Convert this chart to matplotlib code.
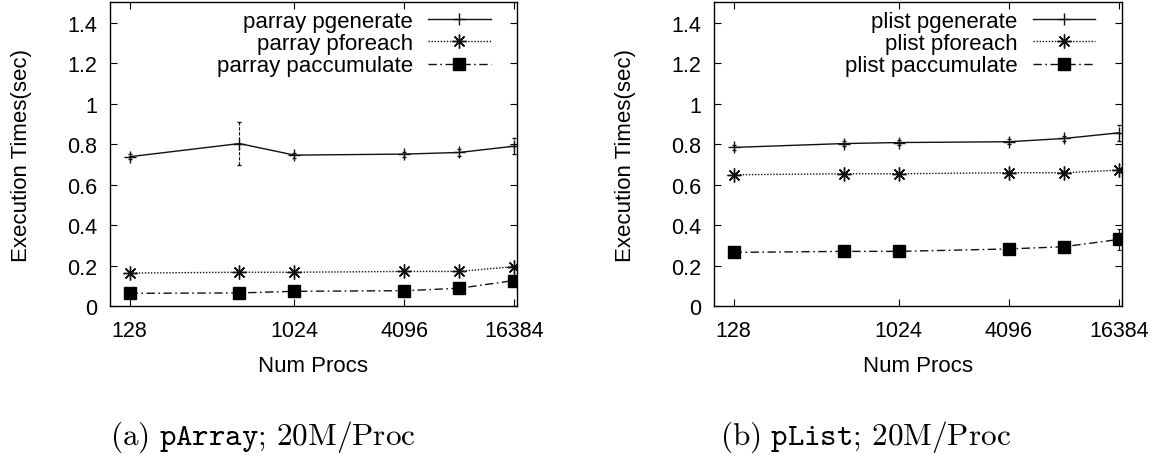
import matplotlib
matplotlib.use("Agg")
import matplotlib.pyplot as plt
from matplotlib.ticker import FixedLocator, FuncFormatter, NullLocator

plt.rcParams['font.family'] = ['Liberation Sans', 'DejaVu Sans']
plt.rcParams['mathtext.fontset'] = 'cm'

procs = [128, 512, 1024, 4096, 8192, 16384]
xtick_vals = [128, 1024, 4096, 16384]
xtick_labels = ["128", "1024", "4096", "16384"]
ytick_vals = [0, 0.2, 0.4, 0.6, 0.8, 1.0, 1.2, 1.4]

parray_gen = [0.738, 0.803, 0.746, 0.751, 0.759, 0.790]
parray_gen_err = [0.012, 0.108, 0.012, 0.012, 0.015, 0.038]
parray_foreach = [0.164, 0.168, 0.168, 0.172, 0.172, 0.196]
parray_accum = [0.064, 0.066, 0.074, 0.077, 0.089, 0.127]
parray_accum_err = [0.0, 0.0, 0.0, 0.0, 0.0, 0.025]

plist_gen = [0.784, 0.803, 0.808, 0.812, 0.828, 0.856]
plist_gen_err = [0.012, 0.012, 0.012, 0.012, 0.012, 0.040]
plist_foreach = [0.649, 0.654, 0.654, 0.659, 0.659, 0.672]
plist_accum = [0.266, 0.271, 0.271, 0.283, 0.294, 0.330]
plist_accum_err = [0.0, 0.0, 0.0, 0.0, 0.0, 0.050]

labels_a = ["parray pgenerate", "parray pforeach", "parray paccumulate"]
labels_b = ["plist pgenerate", "plist pforeach", "plist paccumulate"]
caption_a = r'$\mathrm{(a)\ }\mathtt{pArray}\mathrm{;}\!\ \mathrm{20M/Proc}$'
caption_b = r'$\mathrm{(b)\ }\mathtt{pList}\mathrm{;}\!\ \mathrm{20M/Proc}$'
xlabel = "Num Procs"
ylabel = "Execution Times(sec)"

W, H = 1160, 456
fig = plt.figure(figsize=(W / 100, H / 100), dpi=100)

def px_axes(x0, x1, ytop, ybot):
    return fig.add_axes([x0 / W, (H - ybot) / H, (x1 - x0) / W, (ybot - ytop) / H])

def draw(ax, gen, gen_err, fe, acc, acc_err, labels):
    c = '#111111'
    eb = ax.errorbar(procs, gen, yerr=gen_err, color=c, lw=1.0, marker='+', ms=8,
                     mew=1.0, capsize=1.5, elinewidth=0.8, capthick=0.8)
    for lc in eb[2]:
        lc.set_linestyle((0, (3, 1.5)))
    fe_line, = ax.plot(procs, fe, color=c, lw=1.0, ls=(0, (1, 1.2)), marker=(8, 2, 0), ms=10,
                       mew=1.0)
    eb2 = ax.errorbar(procs, acc, yerr=acc_err, color=c, lw=1.0, ls=(0, (6, 2.5, 1.2, 2.5)),
                      marker='s', ms=8.5, mfc='black', mec='black', capsize=1.5,
                      elinewidth=0.8, capthick=0.8)
    ax.set_xscale('log', base=2)
    ax.set_xlim(100, 17000)
    ax.set_ylim(0, 1.5)
    ax.xaxis.set_major_locator(FixedLocator(xtick_vals))
    ax.xaxis.set_major_formatter(FuncFormatter(lambda v, p: xtick_labels[xtick_vals.index(int(round(v)))] if int(round(v)) in xtick_vals else ""))
    ax.xaxis.set_minor_locator(NullLocator())
    ax.yaxis.set_major_locator(FixedLocator(ytick_vals))
    ax.yaxis.set_major_formatter(FuncFormatter(lambda v, p: "%g" % round(v, 1)))
    ax.tick_params(axis='both', which='both', direction='in', top=True, right=True,
                   length=5, width=0.8, labelsize=15.5, colors='black')
    ax.tick_params(axis='x', pad=10)
    ax.tick_params(axis='y', pad=9)
    for s in ax.spines.values():
        s.set_linewidth(1.0)
    ax.text(0.5, -0.212, xlabel, transform=ax.transAxes, ha='center', va='baseline', fontsize=16)
    handles = [eb.lines[0], fe_line, eb2.lines[0]]
    ax.legend(handles, labels, loc='upper right', bbox_to_anchor=(0.935, 0.972), frameon=False,
              markerfirst=False, fontsize=16, handlelength=2.8, handletextpad=0.7,
              labelspacing=0.06, borderpad=0, borderaxespad=0, numpoints=1)

ax1 = px_axes(110, 517, 3.3, 307.3)
draw(ax1, parray_gen, parray_gen_err, parray_foreach, parray_accum, parray_accum_err, labels_a)
ax2 = px_axes(714, 1122, 3.3, 307.3)
draw(ax2, plist_gen, plist_gen_err, plist_foreach, plist_accum, plist_accum_err, labels_b)

fig.text(22 / W, (H - 155.3) / H, ylabel, rotation=90, ha='center', va='center', fontsize=16)
fig.text(626 / W, (H - 155.3) / H, ylabel, rotation=90, ha='center', va='center', fontsize=16)

fig.text(263 / W, (H - 445) / H, caption_a, ha='center', va='baseline', fontsize=22.5)
fig.text(866 / W, (H - 445) / H, caption_b, ha='center', va='baseline', fontsize=22.5)

fig.savefig("out.png", dpi=100)
